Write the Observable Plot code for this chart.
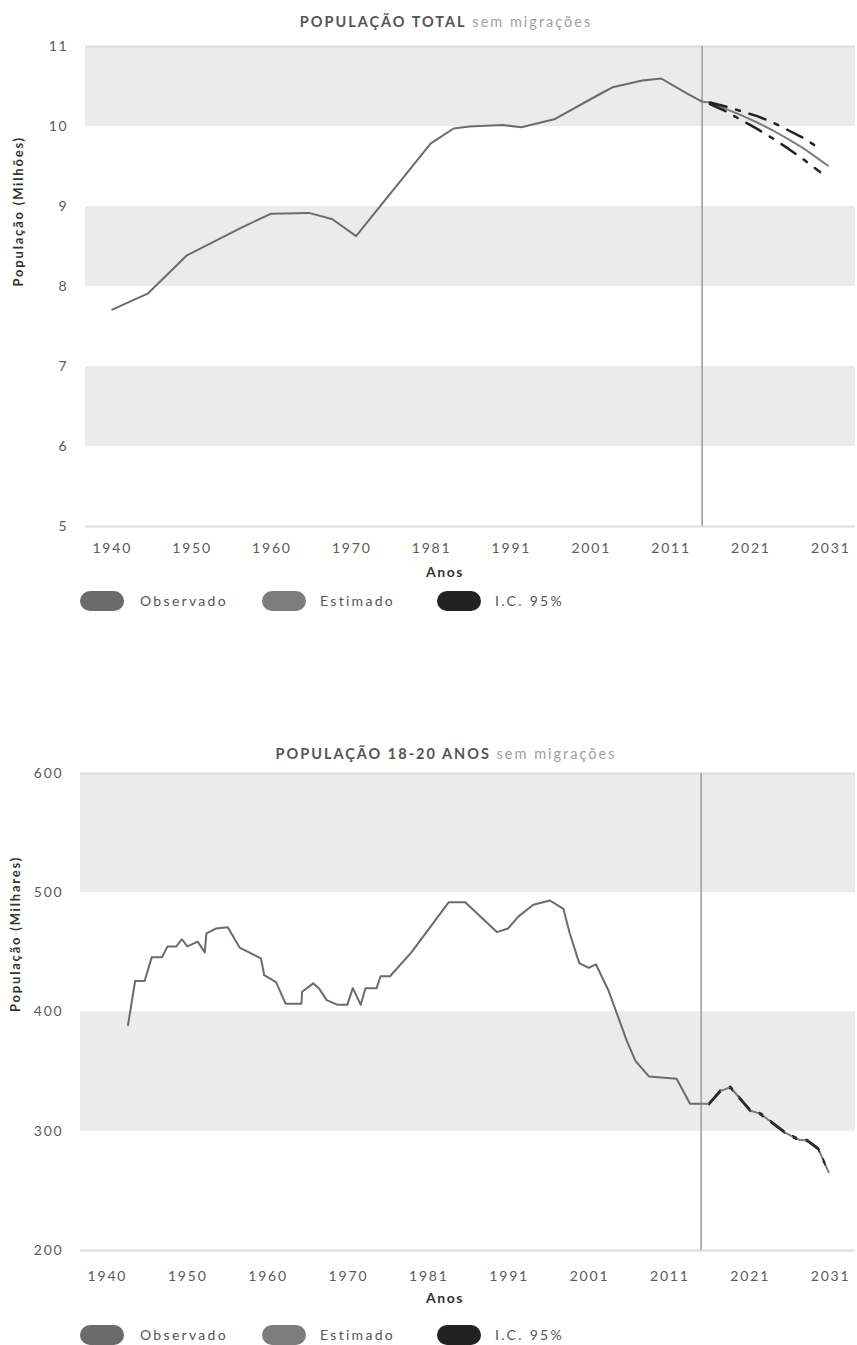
<!DOCTYPE html>
<html><head><meta charset="utf-8">
<script src="https://cdn.jsdelivr.net/npm/d3@7"></script>
<script src="https://cdn.jsdelivr.net/npm/@observablehq/plot@0.6"></script>
<style>
body{margin:0;background:#fff;}
#page{position:relative;width:857px;height:1345px;overflow:hidden;font-family:Lato,"Open Sans",sans-serif;}
.title{font-size:14.5px;color:#555;letter-spacing:2px;white-space:nowrap;transform:translateX(-50%);line-height:16px;}
.title b{font-weight:700;}
.title span{color:#a0a0a0;font-weight:400;letter-spacing:2px;}
.xl{font-weight:700;font-size:14px;color:#333;transform:translateX(-50%);letter-spacing:1.6px;line-height:16px;}
.pill{position:absolute;width:44px;height:20px;border-radius:10px;}
.lt{position:absolute;font-size:14px;color:#555;letter-spacing:2.3px;line-height:16px;white-space:nowrap;}
</style>
</head><body><div id="page"></div>
<script>
// ---------- data ----------
const xTickValues = [1940, 1950.15, 1960.3, 1970.45, 1980.6, 1990.75, 2000.9, 2011.05, 2021.2, 2031.35];
const xTickLabels = ["1940","1950","1960","1970","1981","1991","2001","2011","2021","2031"];
const xDomain = [1936.6, 2034.5];
const projectionStartYear = 2015;

// Chart 1: total population (millions)
const totalYTicks = [5, 6, 7, 8, 9, 10, 11];
const totalBands = [[10, 11], [8, 9], [6, 7]];
const totalObsYears  = [1940, 1944.5, 1949.5, 1956.5, 1960.2, 1965, 1968, 1971, 1980.5, 1983.4, 1985.4, 1989.6, 1992, 1996.2, 2001.9, 2003.6, 2007.4, 2009.8, 2013.1, 2015];
const totalObsValues = [7.71, 7.91, 8.39, 8.74, 8.91, 8.92, 8.84, 8.63, 9.79, 9.975, 10.0, 10.02, 9.99, 10.09, 10.40, 10.49, 10.575, 10.6, 10.41, 10.31];
const totalEstYears  = [2015, 2016, 2017, 2018, 2020, 2022, 2024, 2026, 2028, 2030, 2031];
const totalEstValues = [10.31, 10.30, 10.26, 10.22, 10.14, 10.05, 9.95, 9.84, 9.72, 9.58, 9.51];
const totalCiYears   = [2016, 2018, 2020, 2022, 2024, 2026, 2028, 2030];
const totalCiUpper   = [10.30, 10.25, 10.19, 10.13, 10.05, 9.95, 9.85, 9.72];
const totalCiLower   = [10.28, 10.19, 10.08, 9.97, 9.85, 9.72, 9.58, 9.43];

// Chart 2: population aged 18-20 (thousands)
const youthYTicks = [200, 300, 400, 500, 600];
const youthBands = [[500, 600], [300, 400]];
const youthObsYears  = [1942.6, 1943.5, 1944.7, 1945.6, 1946.9, 1947.6, 1948.7, 1949.4, 1950.1, 1951.4, 1952.3, 1952.5, 1953.7, 1955.2, 1956.7, 1959.4, 1959.8, 1961.3, 1962.5, 1964.5, 1964.6, 1966, 1966.7, 1967.7, 1969.1, 1970.3, 1971, 1972, 1972.6, 1974, 1974.5, 1975.7, 1978.4, 1983.1, 1985.2, 1989.2, 1990.6, 1991.9, 1993.8, 1995.9, 1997.6, 1998.4, 1999.6, 2000.8, 2001.7, 2003.3, 2005.6, 2006.7, 2008.4, 2011.9, 2013.6, 2015];
const youthObsValues = [389, 426, 426, 446, 446, 455, 455, 461, 455, 459, 450, 466, 470, 471, 454, 445, 431, 425, 407, 407, 417, 424, 420, 410, 406, 406, 420, 406, 420, 420, 430, 430, 450, 492, 492, 467, 470, 480, 490, 493.5, 486.5, 466, 441, 437, 440, 418, 376, 359, 346, 344, 323, 323];
const youthEstYears  = [2015, 2016, 2017.4, 2018.7, 2021.2, 2022.5, 2025.7, 2027.4, 2028.4, 2029.8, 2031.1];
const youthEstValues = [323, 323, 333.6, 336.9, 317.4, 314.6, 298.4, 292.8, 292.2, 285.3, 265.7];
const youthCiYears   = [2016, 2017.4, 2018.7, 2021.2, 2022.5, 2025.7, 2027.4, 2028.4, 2029.8, 2031.1];
const youthCiUpper   = [323.8, 334.6, 337.8, 318.2, 315.4, 299.2, 293.6, 293.0, 286.1, 266.5];
const youthCiLower   = [322.2, 332.6, 336.0, 316.6, 313.8, 297.6, 292.0, 291.4, 284.5, 264.9];

const colors = {obs: "#6b6b6b", est: "#7d7d7d", ci: "#222222"};

// ---------- helpers ----------
const zip = (xs, ys) => xs.map((x, i) => ({year: x, value: ys[i]}));
const page = document.getElementById("page");

function chart({obs, est, ciU, ciL, yDomain, yTicks, bands, yLabel, marginLeft, plotH, marginBottom, xPad, labelDx, ciWidth}) {
  return Plot.plot({
    width: 857,
    height: 10 + plotH + marginBottom,
    marginTop: 10, marginBottom, marginLeft, marginRight: 2,
    style: {fontFamily: "Lato, 'Open Sans', sans-serif", fontSize: "14px", color: "#5a5a5a", letterSpacing: "1.8px", background: "transparent"},
    x: {domain: xDomain, label: null},
    y: {domain: yDomain, label: null},
    marks: [
      Plot.rect(bands, {x1: () => xDomain[0], x2: () => xDomain[1], y1: d => d[0], y2: d => d[1], fill: "#ebebeb"}),
      Plot.ruleY(yDomain, {stroke: "#dddddd", strokeWidth: 2}),
      Plot.ruleX([projectionStartYear], {stroke: "#9c9c9c", strokeWidth: 1.5}),
      Plot.line(obs, {x: "year", y: "value", stroke: colors.obs, strokeWidth: 2}),
      Plot.line(est, {x: "year", y: "value", stroke: colors.est, strokeWidth: 2}),
      Plot.line(ciU, {x: "year", y: "value", stroke: colors.ci, strokeWidth: ciWidth, strokeDasharray: "17,10,4,10"}),
      Plot.line(ciL, {x: "year", y: "value", stroke: colors.ci, strokeWidth: ciWidth, strokeDasharray: "17,10,4,10"}),
      Plot.axisX({ticks: xTickValues, tickFormat: d => xTickLabels[xTickValues.indexOf(d)], tickSize: 0, tickPadding: xPad, label: null}),
      Plot.axisY({ticks: yTicks, tickFormat: d => String(d), tickSize: 0, tickPadding: 17, label: null}),
      Plot.text([yLabel], {frameAnchor: "left", dx: labelDx, rotate: -90, fontWeight: "bold", fill: "#333", fontSize: 13, letterSpacing: "1px"})
    ]
  });
}

function place(el, left, top) { el.style.position = "absolute"; el.style.left = left + "px"; el.style.top = top + "px"; page.appendChild(el); }
function html(str, cls, left, top) { const d = document.createElement("div"); d.className = cls; d.innerHTML = str; place(d, left, top); return d; }

const legendItems = [
  {label: "Observado", color: colors.obs, pillX: 80, textX: 140},
  {label: "Estimado", color: colors.est, pillX: 262, textX: 320},
  {label: "I.C. 95%", color: colors.ci, pillX: 437, textX: 495}
];
function legend(cy) {
  for (const it of legendItems) {
    const p = document.createElement("div"); p.className = "pill"; p.style.background = it.color; place(p, it.pillX, cy - 10);
    html(it.label, "lt", it.textX, cy - 8);
  }
}

// ---------- chart 1 ----------
html("<b>POPULAÇÃO TOTAL</b> <span>sem migrações</span>", "title", 446, 14);
place(chart({
  obs: zip(totalObsYears, totalObsValues), est: zip(totalEstYears, totalEstValues),
  ciU: zip(totalCiYears, totalCiUpper), ciL: zip(totalCiYears, totalCiLower),
  yDomain: [5, 11], yTicks: totalYTicks, bands: totalBands, yLabel: "População (Milhões)",
  marginLeft: 85, plotH: 480, marginBottom: 40, xPad: 17, labelDx: -67, ciWidth: 2.5
}), 0, 36);
html("Anos", "xl", 445, 564);
legend(601);

// ---------- chart 2 ----------
html("<b>POPULAÇÃO 18-20 ANOS</b> <span>sem migrações</span>", "title", 446, 746);
place(chart({
  obs: zip(youthObsYears, youthObsValues), est: zip(youthEstYears, youthEstValues),
  ciU: zip(youthCiYears, youthCiUpper), ciL: zip(youthCiYears, youthCiLower),
  yDomain: [200, 600], yTicks: youthYTicks, bands: youthBands, yLabel: "População (Milhares)",
  marginLeft: 80, plotH: 477, marginBottom: 44, xPad: 21, labelDx: -65, ciWidth: 1.5
}), 0, 763);
html("Anos", "xl", 445, 1290);
legend(1335);
</script></body></html>
